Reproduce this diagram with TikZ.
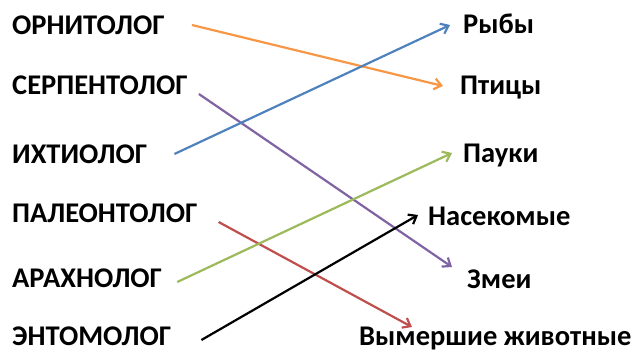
\documentclass[tikz,border=0pt]{standalone}
\usepackage{fontspec}
\setmainfont{Carlito}
\usetikzlibrary{arrows.meta}
\definecolor{linkorange}{rgb}{0.97, 0.59, 0.27}
\definecolor{linkblue}{rgb}{0.31, 0.51, 0.74}
\definecolor{linkpurple}{rgb}{0.50, 0.39, 0.64}
\definecolor{linkred}{rgb}{0.75, 0.31, 0.30}
\definecolor{linkgreen}{rgb}{0.61, 0.73, 0.35}
\tikzset{%
  word/.style={anchor=base west, inner sep=0pt, font=\bfseries\fontsize{28.5}{30}\selectfont},
  link/.style={line width=2.2pt, -{Straight Barb[length=7pt,width=11pt]}},
}

\begin{document}
\begin{tikzpicture}[x=1pt,y=-1pt]
  \useasboundingbox (0,0) rectangle (634,353);

  % specialists
  \foreach \name/\y/\label in
  {
    ornit/35/ОРНИТОЛОГ,
    serpent/94/СЕРПЕНТОЛОГ,
    ichthy/163/ИХТИОЛОГ,
    paleo/222/ПАЛЕОНТОЛОГ,
    arachno/287/АРАХНОЛОГ,
    entomo/345/ЭНТОМОЛОГ
  }
  {
    \node[word] (\name) at (12,\y) {\label};
  }

  % animals
  \node[word] (fish)    at (463,34)  {Рыбы};
  \node[word] (birds)   at (460,94)  {Птицы};
  \node[word] (spiders) at (463,162) {Пауки};
  \node[word] (insects) at (428,225) {Насекомые};
  \node[word] (snakes)  at (467,288) {Змеи};
  \node[word] (extinct) at (359,345) {Вымершие животные};

  \draw[link,linkorange] ([xshift=27pt,yshift=10pt]ornit.base east)   -- ([xshift=-17pt,yshift=8pt]birds.base west);
  \draw[link,linkpurple] ([xshift=11pt,yshift=0pt]serpent.base east)  -- ([xshift=-15pt,yshift=21pt]snakes.base west);
  \draw[link,linkblue]   ([xshift=27pt,yshift=9pt]ichthy.base east)   -- ([xshift=-13pt,yshift=9pt]fish.base west);
  \draw[link,linkred]    ([xshift=21pt,yshift=0pt]paleo.base east)    -- ([xshift=53pt,yshift=18pt]extinct.base west);
  \draw[link,linkgreen]  ([xshift=15pt,yshift=5pt]arachno.base east)  -- ([xshift=-11pt,yshift=9pt]spiders.base west);
  \draw[link,black]      ([xshift=30pt,yshift=5pt]entomo.base east)   -- ([xshift=-10pt,yshift=10pt]insects.base west);
\end{tikzpicture}
\end{document}
